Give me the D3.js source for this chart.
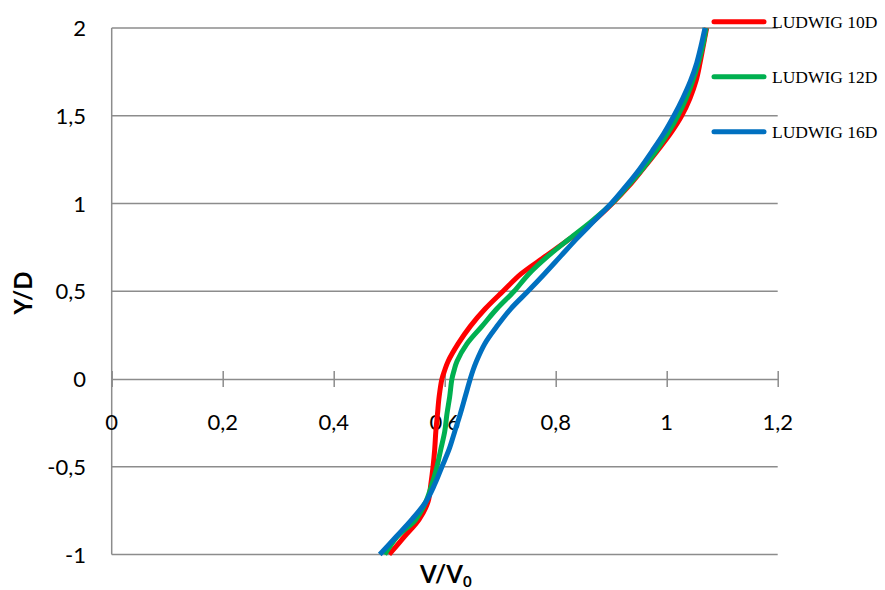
<!DOCTYPE html>
<html>
<head>
<meta charset="utf-8">
<script src="https://cdn.jsdelivr.net/npm/d3@7"></script>
<style>
  html, body { margin: 0; padding: 0; background: #ffffff; }
  svg { display: block; }
</style>
</head>
<body>
<svg id="chart" width="885" height="590"></svg>
<script>
// ---- Data ----
const yLevels = [-1, -0.9, -0.8, -0.7, -0.6, -0.5, -0.4, -0.3, -0.2, -0.1, 0, 0.05, 0.1, 0.2, 0.3, 0.4, 0.5, 0.6, 0.7, 0.8, 0.9, 1.0, 1.1, 1.2, 1.3, 1.4, 1.5, 1.6, 1.7, 1.8, 1.9, 2.0];
const ludwig10D = [0.500, 0.527, 0.554, 0.570, 0.575, 0.579, 0.582, 0.584, 0.587, 0.590, 0.595, 0.600, 0.606, 0.624, 0.646, 0.673, 0.705, 0.738, 0.782, 0.826, 0.868, 0.902, 0.932, 0.958, 0.983, 1.007, 1.027, 1.042, 1.053, 1.060, 1.066, 1.072];
const ludwig12D = [0.492, 0.514, 0.548, 0.566, 0.577, 0.586, 0.593, 0.600, 0.604, 0.609, 0.613, 0.617, 0.622, 0.640, 0.667, 0.694, 0.725, 0.752, 0.786, 0.825, 0.865, 0.901, 0.930, 0.957, 0.981, 1.002, 1.020, 1.035, 1.047, 1.057, 1.065, 1.071];
const ludwig16D = [0.483, 0.512, 0.541, 0.566, 0.582, 0.595, 0.608, 0.618, 0.628, 0.637, 0.646, 0.651, 0.657, 0.672, 0.694, 0.719, 0.750, 0.780, 0.809, 0.838, 0.869, 0.900, 0.927, 0.952, 0.974, 0.995, 1.013, 1.029, 1.043, 1.054, 1.062, 1.069];
const seriesNames = ["LUDWIG 10D", "LUDWIG 12D", "LUDWIG 16D"];
const seriesColors = ["#FF0000", "#00B050", "#0070C0"];
const xTicks = [0, 0.2, 0.4, 0.6, 0.8, 1, 1.2];
const yTicks = [-1, -0.5, 0, 0.5, 1, 1.5, 2];

const fmt = v => String(v).replace(".", ",");

// ---- Layout ----
const svg = d3.select("#chart");
const x = d3.scaleLinear().domain([0, 1.2]).range([111.7, 777.7]);
const y = d3.scaleLinear().domain([-1, 2]).range([554.5, 28]);
const gridColor = "#8c8c8c";

// gridlines
svg.append("g").selectAll("line")
  .data(yTicks.filter(d => d !== 0))
  .join("line")
  .attr("x1", x(0)).attr("x2", x(1.2))
  .attr("y1", d => y(d)).attr("y2", d => y(d))
  .attr("stroke", gridColor).attr("stroke-width", 1.5);

// y axis line
svg.append("line")
  .attr("x1", x(0)).attr("x2", x(0))
  .attr("y1", y(2)).attr("y2", y(-1))
  .attr("stroke", gridColor).attr("stroke-width", 1.5);

// x axis at y = 0 with crossing ticks
const xAxis = d3.axisBottom(x).tickValues(xTicks).tickSize(0).tickFormat("");
const gx = svg.append("g").attr("transform", `translate(0,${y(0)})`).call(xAxis);
gx.select(".domain").attr("stroke", gridColor).attr("stroke-width", 1.5);
gx.selectAll(".tick").append("line")
  .attr("y1", -8).attr("y2", 8)
  .attr("stroke", gridColor).attr("stroke-width", 1.5);

// x tick labels
svg.append("g").selectAll("text")
  .data(xTicks)
  .join("text")
  .attr("x", d => x(d)).attr("y", 430)
  .attr("text-anchor", "middle")
  .attr("font-family", "Lato, 'Open Sans', sans-serif")
  .attr("font-size", 22)
  .attr("fill", "#000")
  .text(fmt);

// y tick labels
svg.append("g").selectAll("text")
  .data(yTicks)
  .join("text")
  .attr("x", 86).attr("y", d => y(d) + 8)
  .attr("text-anchor", "end")
  .attr("font-family", "Lato, 'Open Sans', sans-serif")
  .attr("font-size", 22)
  .attr("fill", "#000")
  .text(fmt);

// axis titles
svg.append("text")
  .attr("transform", "translate(32,293) rotate(-90)")
  .attr("text-anchor", "middle")
  .attr("font-family", "Lato, 'Open Sans', sans-serif")
  .attr("font-weight", "bold")
  .attr("font-size", 24)
  .text("Y/D");

const xt = svg.append("text")
  .attr("x", 420).attr("y", 583)
  .attr("font-family", "Lato, 'Open Sans', sans-serif")
  .attr("font-weight", "bold")
  .attr("font-size", 24);
xt.append("tspan").text("V/V");
xt.append("tspan").attr("font-size", 15).attr("dy", 4).text("0");

// curves
const allSeries = [ludwig10D, ludwig12D, ludwig16D];
const line = d3.line()
  .x(d => x(d[0]))
  .y(d => y(d[1]))
  .curve(d3.curveCatmullRom.alpha(0.5));

allSeries.forEach((vals, i) => {
  svg.append("path")
    .datum(vals.map((v, k) => [v, yLevels[k]]))
    .attr("d", line)
    .attr("fill", "none")
    .attr("stroke", seriesColors[i])
    .attr("stroke-width", 5)
    .attr("stroke-linejoin", "round");
});

// legend
const legendY = [21.7, 76.7, 131.7];
const lg = svg.append("g");
seriesNames.forEach((name, i) => {
  lg.append("line")
    .attr("x1", 714).attr("x2", 764)
    .attr("y1", legendY[i]).attr("y2", legendY[i])
    .attr("stroke", seriesColors[i]).attr("stroke-width", 5)
    .attr("stroke-linecap", "round");
  lg.append("text")
    .attr("x", 772).attr("y", legendY[i] + 6.3)
    .attr("font-family", "'Liberation Serif', 'Times New Roman', serif")
    .attr("font-size", 17.5)
    .attr("fill", "#000")
    .text(name);
});
</script>
</body>
</html>
